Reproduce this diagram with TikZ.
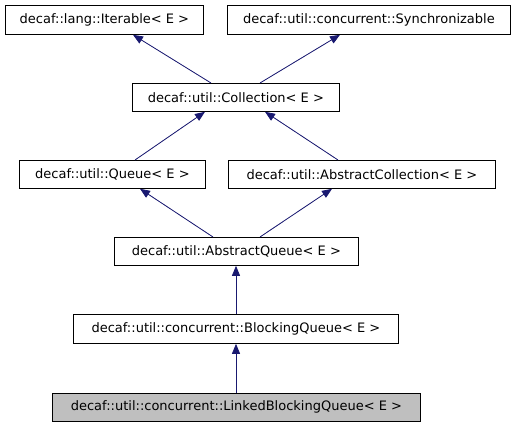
\documentclass[tikz,border=0pt]{standalone}
\usepackage{fontspec}
\setmainfont{DejaVu Sans}
\usetikzlibrary{arrows.meta}
\definecolor{edgeblue}{HTML}{191970}
\begin{document}
\begin{tikzpicture}[x=1pt,y=-1pt,
  cls/.style={draw=black,line width=0.8pt,fill=white,inner sep=0pt,anchor=north west,font=\fontsize{13}{15}\selectfont},
  inh/.style={draw=edgeblue,line width=0.8pt,-{Triangle[length=10pt,width=8pt]},fill=edgeblue}]
\useasboundingbox (0,0) rectangle (517,427);
\node[cls,minimum width=198pt,minimum height=29pt] (iter) at (5,5) {decaf::lang::Iterable< E >};
\node[cls,minimum width=283pt,minimum height=29pt] (sync) at (227,5) {decaf::util::concurrent::Synchronizable};
\node[cls,minimum width=207pt,minimum height=28pt] (coll) at (132,83) {decaf::util::Collection< E >};
\node[cls,minimum width=186pt,minimum height=28pt] (queue) at (19,160) {decaf::util::Queue< E >};
\node[cls,minimum width=267pt,minimum height=28pt] (acoll) at (228,160) {decaf::util::AbstractCollection< E >};
\node[cls,minimum width=244pt,minimum height=28pt] (aqueue) at (114,237) {decaf::util::AbstractQueue< E >};
\node[cls,minimum width=325pt,minimum height=29pt] (bqueue) at (73,314) {decaf::util::concurrent::BlockingQueue< E >};
\node[cls,fill={rgb,255:red,191;green,191;blue,191},minimum width=368pt,minimum height=28pt] (lbq) at (52,393) {decaf::util::concurrent::LinkedBlockingQueue< E >};
\draw[inh] ([xshift=79pt]coll.north west) -- ([xshift=128pt]iter.south west);
\draw[inh] ([xshift=128pt]coll.north west) -- ([xshift=113pt]sync.south west);
\draw[inh] ([xshift=116pt]queue.north west) -- ([xshift=73pt]coll.south west);
\draw[inh] ([xshift=110pt]acoll.north west) -- ([xshift=133pt]coll.south west);
\draw[inh] ([xshift=99pt]aqueue.north west) -- ([xshift=121pt]queue.south west);
\draw[inh] ([xshift=146pt]aqueue.north west) -- ([xshift=104pt]acoll.south west);
\draw[inh] ([xshift=163pt]bqueue.north west) -- ([xshift=122pt]aqueue.south west);
\draw[inh] ([xshift=184pt]lbq.north west) -- ([xshift=163pt]bqueue.south west);
\end{tikzpicture}
\end{document}
